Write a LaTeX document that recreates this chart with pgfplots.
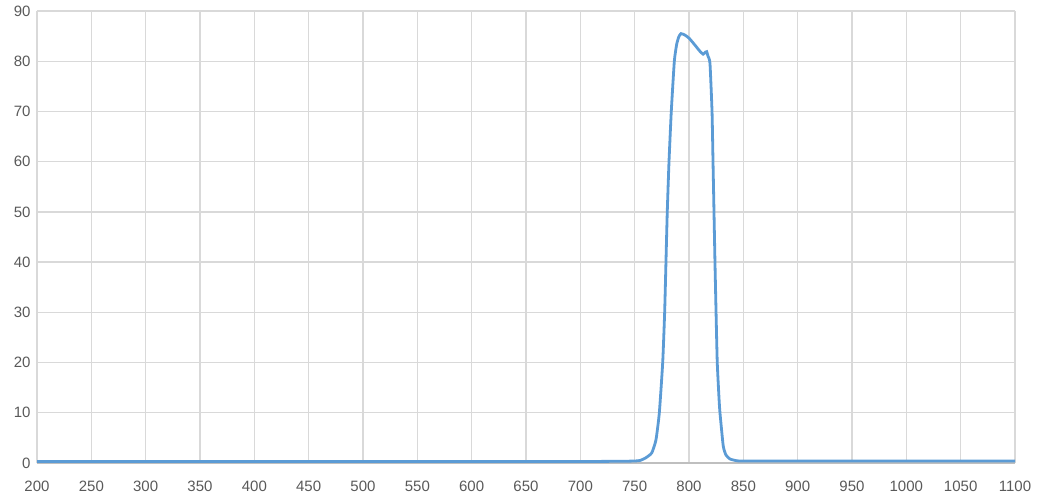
\documentclass[border=0pt]{standalone}
\usepackage{pgfplots}
\pgfplotsset{compat=1.18}
\usepackage{fontspec}
\setmainfont{Liberation Sans}
\definecolor{gridgray}{HTML}{D9D9D9}
\definecolor{axisgray}{HTML}{BFBFBF}
\definecolor{labelgray}{HTML}{595959}
\definecolor{curveblue}{HTML}{5B9BD5}
\begin{document}
\begin{tikzpicture}
\path[use as bounding box] (-37bp,-35bp) rectangle (1001bp,463bp);
\begin{axis}[
	scale only axis,
	width=978bp, height=452bp,
	at={(0,0)}, anchor=south west,
	xmin=200, xmax=1100, ymin=0, ymax=90,
	xtick={200,250,...,1100},
	ytick={0,10,...,90},
	axis x line=bottom, axis y line=left,
	x axis line style={-, draw=axisgray, line width=1.3bp},
	y axis line style={draw=none},
	major tick length=0pt,
	grid=major,
	major grid style={draw=gridgray, line width=1.3bp},
	font=\fontsize{15bp}{18bp}\selectfont,
	tick label style={text=labelgray},
	/pgf/number format/assume math mode=true,
	/pgf/number format/1000 sep={},
	xticklabel style={yshift=-15bp},
	yticklabel style={xshift=-3bp},
	clip=false,
]
\addplot[curveblue, line width=2.8bp, smooth, tension=0.3] coordinates {
	(200,0.3) (400,0.3) (600,0.3) (700,0.3) (740,0.35) (750,0.4)
	(755,0.5) (760,1.0) (765.7,2) (769.6,4.6) (772.7,10) (775.8,20)
	(777.6,30) (778.8,40) (780,50) (781.6,60) (783.7,70) (786.5,80)
	(788.6,83.3) (790.5,84.8) (792.6,85.5) (796.3,85.2) (800,84.6)
	(804,83.6) (807,82.8) (810,82.0) (813,81.4) (815,81.8) (816.3,81.9)
	(817.5,81.0) (819.3,79.6) (821.2,70) (822.1,60) (823,50) (823.9,40)
	(824.9,30) (826,20) (827.6,13) (828.5,10) (831.5,3.4) (834,1.6)
	(837.7,0.8) (843.9,0.45) (850,0.4) (900,0.4) (1000,0.4) (1100,0.4)
};
\end{axis}
\end{tikzpicture}
\end{document}
